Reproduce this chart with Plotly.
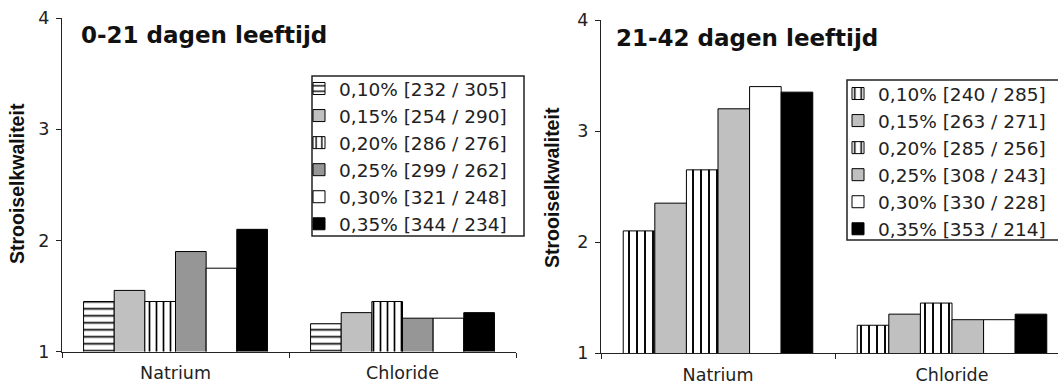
import plotly.graph_objects as go

# Categories and treatment levels
categories = ["Natrium", "Chloride"]

names_0_21 = ["0,10% [232 / 305]", "0,15% [254 / 290]", "0,20% [286 / 276]",
              "0,25% [299 / 262]", "0,30% [321 / 248]", "0,35% [344 / 234]"]
natrium_0_21 = [1.45, 1.55, 1.45, 1.9, 1.75, 2.1]
chloride_0_21 = [1.25, 1.35, 1.45, 1.3, 1.3, 1.35]

names_21_42 = ["0,10% [240 / 285]", "0,15% [263 / 271]", "0,20% [285 / 256]",
               "0,25% [308 / 243]", "0,30% [330 / 228]", "0,35% [353 / 214]"]
natrium_21_42 = [2.1, 2.35, 2.65, 3.2, 3.4, 3.35]
chloride_21_42 = [1.25, 1.35, 1.45, 1.3, 1.3, 1.35]

y_ticks = [1, 2, 3, 4]

W, H = 1058, 387
FONT = "DejaVu Sans"


def px_x(v):
    return v / W


def px_y(v):
    return 1 - v / H


# fill styles: (fill colour, pattern shape or None)
styles_0_21 = [("white", "-"), ("#C0C0C0", None), ("white", "|"),
               ("#969696", None), ("white", None), ("black", None)]
styles_21_42 = [("white", "|"), ("#C0C0C0", None), ("white", "|"),
                ("#C0C0C0", None), ("white", None), ("black", None)]


def marker_for(style, stripe):
    colour, shape = style
    m = dict(color=colour, line=dict(color="black", width=1))
    if shape:
        m["pattern"] = dict(shape=shape, fgcolor="black", bgcolor="white",
                            fillmode="replace", size=stripe, solidity=0.24)
    return m


fig = go.Figure()

for i, name in enumerate(names_0_21):
    fig.add_trace(go.Bar(
        x=categories, y=[natrium_0_21[i], chloride_0_21[i]], name=name,
        marker=marker_for(styles_0_21[i], 7), xaxis="x", yaxis="y",
        legend="legend"))

for i, name in enumerate(names_21_42):
    fig.add_trace(go.Bar(
        x=categories, y=[natrium_21_42[i], chloride_21_42[i]], name=name,
        marker=marker_for(styles_21_42[i], 8), xaxis="x2", yaxis="y2",
        legend="legend2"))

axis_common = dict(showline=True, linecolor="#222", linewidth=1,
                   showgrid=False, zeroline=False, ticks="outside",
                   tickcolor="#222", ticklen=5, tickwidth=1)

fig.update_layout(
    width=W, height=H,
    margin=dict(l=0, r=0, t=0, b=0, autoexpand=False),
    paper_bgcolor="white", plot_bgcolor="white",
    barmode="group", bargap=0.19, bargroupgap=0,
    font=dict(family=FONT, color="#222"),
    xaxis=dict(domain=[px_x(62), px_x(516)], range=[-0.5, 1.5],
               anchor="y", tickson="boundaries", ticklabelstandoff=5,
               tickfont=dict(size=17.5), **axis_common),
    yaxis=dict(domain=[px_y(351.5), px_y(18.3)], range=[1, 4],
               anchor="x", tickvals=y_ticks, ticklabelstandoff=3,
               tickfont=dict(size=17.5), **axis_common),
    xaxis2=dict(domain=[px_x(601), 1.0], range=[-0.5, -0.5 + 457 / 234],
                anchor="y2", tickson="boundaries", ticklabelstandoff=6,
                tickfont=dict(size=17.5), **axis_common),
    yaxis2=dict(domain=[px_y(353), px_y(20)], range=[1, 4],
                anchor="x2", tickvals=y_ticks, ticklabelstandoff=3,
                tickfont=dict(size=17.5), **axis_common),
    legend=dict(x=px_x(299), y=px_y(70), xanchor="left", yanchor="top",
                bgcolor="rgba(0,0,0,0)", borderwidth=0,
                font=dict(family=FONT, size=18.5, color="#222"),
                traceorder="normal"),
    legend2=dict(x=px_x(838), y=px_y(75), xanchor="left", yanchor="top",
                 bgcolor="rgba(0,0,0,0)", borderwidth=0,
                 font=dict(family=FONT, size=18.5, color="#222"),
                 traceorder="normal"),
)

# legend frames
fig.add_shape(type="rect", xref="paper", yref="paper",
              x0=px_x(312), x1=px_x(524), y0=px_y(236), y1=px_y(76),
              line=dict(color="#222", width=1.5), fillcolor="rgba(0,0,0,0)")
fig.add_shape(type="rect", xref="paper", yref="paper",
              x0=px_x(847), x1=px_x(1070), y0=px_y(240), y1=px_y(80),
              line=dict(color="#222", width=1.5), fillcolor="rgba(0,0,0,0)")

# panel titles
fig.add_annotation(text="<b>0-21 dagen leeftijd</b>", xref="paper", yref="paper",
                   x=px_x(79), y=px_y(35), xanchor="left", yanchor="middle",
                   showarrow=False, font=dict(family=FONT, size=23, color="#111"))
fig.add_annotation(text="<b>21-42 dagen leeftijd</b>", xref="paper", yref="paper",
                   x=px_x(614), y=px_y(38), xanchor="left", yanchor="middle",
                   showarrow=False, font=dict(family=FONT, size=23, color="#111"))

# y-axis titles
for xc, yc in [(17, 184), (552, 188)]:
    fig.add_annotation(text="<b>Strooiselkwaliteit</b>", xref="paper", yref="paper",
                       x=px_x(xc), y=px_y(yc), xanchor="center", yanchor="middle",
                       textangle=-90, showarrow=False,
                       font=dict(family="Liberation Sans", size=19.5, color="#111"))

fig.write_html("out.html")
